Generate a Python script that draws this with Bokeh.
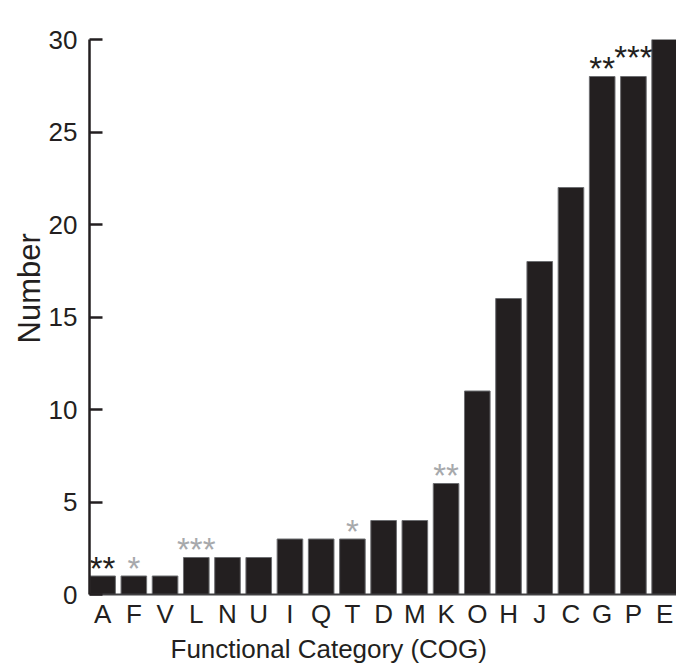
from bokeh.plotting import figure
from bokeh.models import FixedTicker, ColumnDataSource, Title
from bokeh.core.properties import value
from bokeh.embed import file_html
from bokeh.resources import INLINE

# ---- data ----
categories = ["A", "F", "V", "L", "N", "U", "I", "Q", "T", "D", "M", "K",
              "O", "H", "J", "C", "G", "P", "E"]
counts = [1, 1, 1, 2, 2, 2, 3, 3, 3, 4, 4, 6, 11, 16, 18, 22, 28, 28, 30]

ann_cats = ["A", "F", "L", "T", "K", "G", "P"]
ann_marks = ["**", "*", "***", "*", "**", "**", "***"]
ann_group = ["dark", "light", "light", "light", "light", "dark", "dark"]

y_ticks = [0, 5, 10, 15, 20, 25, 30]
x_title = "Functional Category (COG)"
y_title = "Number"

# ---- styles ----
FONT = "Liberation Sans"
BAR = "#231f20"
group_color = {"dark": "#231f20", "light": "#a7a9ac"}
raise_px = {"P": 11}

idx = list(range(len(categories)))

p = figure(width=676, height=664, output_backend="svg", toolbar_location=None,
           x_range=(-0.42, 18.38), y_range=(0, 30),
           min_border_left=89, min_border_right=0, min_border_top=39,
           min_border_bottom=68)
p.outline_line_color = None
p.xgrid.visible = False
p.ygrid.visible = False
p.background_fill_color = "white"

src = ColumnDataSource(dict(x=idx, top=counts, cat=categories))
p.vbar(x="x", top="top", bottom=0, width=0.82, source=src,
       fill_color=BAR, line_color="#6d6e71", line_width=1)

pos = {c: i for i, c in enumerate(categories)}
ax = [pos[c] for c in ann_cats]
ay = [counts[pos[c]] for c in ann_cats]
acol = [group_color[g] for g in ann_group]
aoff = [-8 - raise_px.get(c, 0) for c in ann_cats]
asrc = ColumnDataSource(dict(x=ax, y=ay, t=ann_marks, c=acol, off=aoff))
p.text(x="x", y="y", text="t", source=asrc, text_color="c",
       text_font=value(FONT), text_font_size="33px", text_align="center",
       text_baseline="alphabetic", y_offset="off")

# y axis
ya = p.yaxis[0]
ya.ticker = FixedTicker(ticks=y_ticks)
ya.axis_line_width = 2.5
ya.axis_line_color = "#231f20"
ya.major_tick_in = 13
ya.major_tick_out = 0
ya.major_tick_line_width = 2.5
ya.major_tick_line_color = "#231f20"
ya.minor_tick_line_color = None
ya.major_label_text_font = FONT
ya.major_label_text_font_size = "26px"
ya.major_label_text_color = "#231f20"
ya.major_label_standoff = 12

# x axis
xa = p.xaxis[0]
xa.ticker = FixedTicker(ticks=idx)
xa.major_label_overrides = {i: c for i, c in enumerate(categories)}
xa.axis_line_width = 2
xa.axis_line_color = "#414042"
xa.major_tick_in = 0
xa.major_tick_out = 0
xa.minor_tick_line_color = None
xa.major_label_text_font = FONT
xa.major_label_text_font_size = "26px"
xa.major_label_text_color = "#231f20"
xa.major_label_standoff = 4

# axis titles (off-centre, as in the original)
xt = Title(text=x_title, align="left", offset=81, standoff=1,
           text_font=FONT, text_font_size="26px", text_font_style="normal",
           text_color="#231f20")
p.add_layout(xt, "below")
yt = Title(text=y_title, align="left", offset=251, standoff=-2,
           text_font=FONT, text_font_size="31px", text_font_style="normal",
           text_color="#231f20")
p.add_layout(yt, "left")

open("out.html", "w").write(file_html(p, INLINE))
